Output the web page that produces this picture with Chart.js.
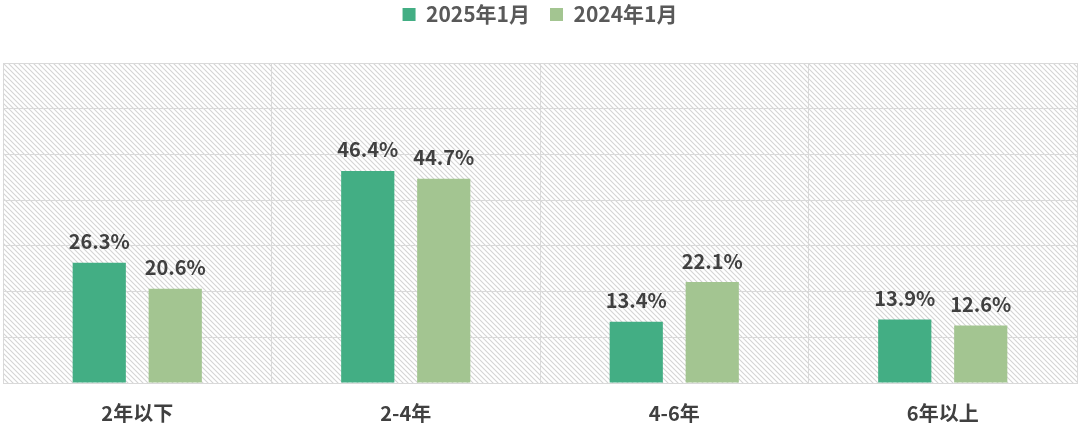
<!DOCTYPE html>
<html><head><meta charset="utf-8">
<script src="https://cdn.jsdelivr.net/npm/chart.js@4/dist/chart.umd.min.js"></script>
<style>html,body{margin:0;padding:0;background:#fff}#wrap{width:1080px;height:437px}</style>
</head><body><div id="wrap"><canvas id="c"></canvas></div>
<script>
const categories = ['2年以下', '2-4年', '4-6年', '6年以上'];
const seriesNames = ['2025年1月', '2024年1月'];
const values2025 = [26.3, 46.4, 13.4, 13.9];
const values2024 = [20.6, 44.7, 22.1, 12.6];
const FONT = '"Noto Sans CJK SC","Noto Sans",sans-serif';
const LAYOUT_TOP = -16;

function makeHatch(){
  const s = 5, c = document.createElement('canvas');
  c.width = s; c.height = s;
  const g = c.getContext('2d');
  g.fillStyle = '#ffffff'; g.fillRect(0,0,s,s);
  g.strokeStyle = '#d4d4d4'; g.lineWidth = 1.1;
  g.beginPath();
  g.moveTo(-1,-1); g.lineTo(s+1,s+1);
  g.moveTo(-1,s-1); g.lineTo(1,s+1);
  g.moveTo(s-1,-1); g.lineTo(s+1,1);
  g.stroke();
  return c;
}
const hatchPlugin = {
  id:'hatch',
  beforeDraw(chart){
    const {ctx, chartArea:a} = chart;
    ctx.save();
    ctx.fillStyle = ctx.createPattern(makeHatch(),'repeat');
    ctx.fillRect(a.left,a.top,a.right-a.left,a.bottom-a.top);
    ctx.restore();
  }
};
const legendGap = {
  id:'legendGap',
  beforeInit(chart){
    const lg = chart.legend;
    const orig = lg.fit;
    lg.fit = function(){ orig.call(this); this.height = 63 - LAYOUT_TOP; };
  }
};
const labelPlugin = {
  id:'vlabels',
  afterDatasetsDraw(chart){
    const ctx = chart.ctx;
    ctx.save();
    ctx.font = 'bold 20px ' + FONT;
    ctx.fillStyle = '#404040';
    ctx.textAlign = 'center';
    ctx.textBaseline = 'bottom';
    chart.data.datasets.forEach((ds,i)=>{
      chart.getDatasetMeta(i).data.forEach((el,j)=>{
        ctx.fillText(ds.data[j].toFixed(1)+'%', el.x, el.y-11);
      });
    });
    ctx.restore();
  }
};

new Chart(document.getElementById('c'),{
  type:'bar',
  data:{labels:categories,datasets:[
    {label:seriesNames[0],data:values2025,backgroundColor:'#43ae84',categoryPercentage:0.566,barPercentage:0.7},
    {label:seriesNames[1],data:values2024,backgroundColor:'#a3c591',categoryPercentage:0.566,barPercentage:0.7}
  ]},
  options:{
    responsive:true,maintainAspectRatio:false,animation:false,
    layout:{padding:{left:3,right:3,top:LAYOUT_TOP,bottom:-6}},
    plugins:{
      legend:{position:'top',labels:{boxWidth:13,boxHeight:13,padding:20,color:'#595959',font:{family:FONT,size:21,weight:'bold'}}},
      tooltip:{enabled:false}
    },
    scales:{
      x:{grid:{offset:true,color:'#d9d9d9',drawTicks:false},border:{color:'#d9d9d9'},
         ticks:{color:'#404040',padding:18,font:{family:FONT,size:20,weight:'bold'}}},
      y:{min:0,max:70,ticks:{display:false,stepSize:10},grid:{color:'#d9d9d9',drawTicks:false},border:{display:false}}
    }
  },
  plugins:[legendGap,hatchPlugin,labelPlugin]
});
</script></body></html>
